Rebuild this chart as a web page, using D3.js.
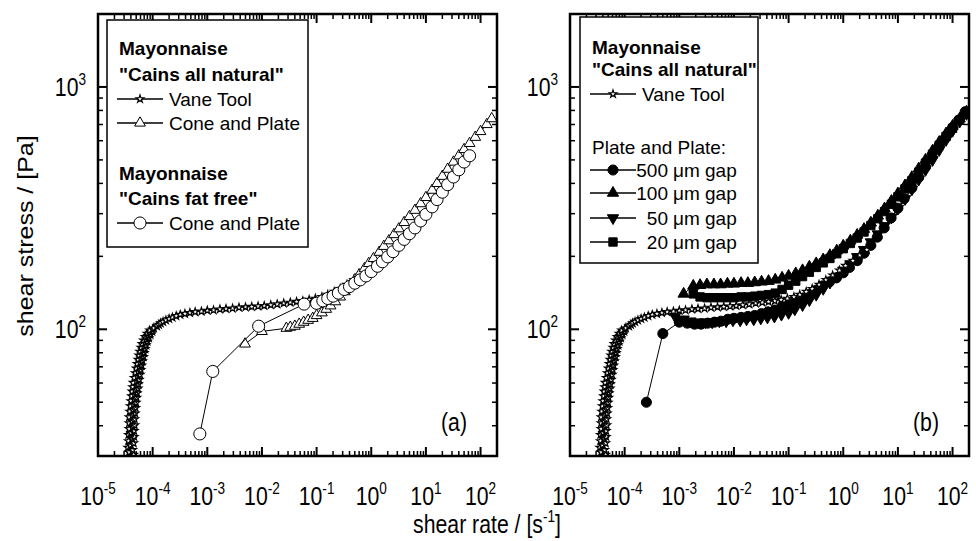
<!DOCTYPE html>
<html>
<head>
<meta charset="utf-8">
<script src="https://cdn.jsdelivr.net/npm/d3@7"></script>
<style>
  body { margin: 0; background: #fff; }
  text { font-family: "Liberation Sans", Arial, sans-serif; fill: #000; }
</style>
</head>
<body>
<svg id="canvas" width="976" height="541"></svg>
<script>
// données : [taux de cisaillement (1/s), contrainte (Pa)]

// vane tool, mayonnaise "Cains all natural" (étoiles, les deux panneaux)
// partie raide : taux en unités de 1e-5 1/s
const vaneRaide = [
  [3.4,29],[4.0,29.7],[4.5,30.4],[3.7,31.1],[4.3,31.8],[3.5,32.5],[3.9,33.2],[4.5,33.9],[3.6,34.6],
  [4.2,35.3],[4.6,36],[3.6,36.7],[4.0,37.4],[4.6,38.1],[3.7,38.8],[4.3,39.5],[4.7,40.2],[3.7,41],
  [4.2,41.8],[4.7,42.6],[3.7,43.4],[4.3,44.2],[4.8,45],[3.8,45.8],[4.4,46.6],[4.9,47.4],[3.9,48.2],
  [4.5,49],[5.0,49.8],[4.0,50.6],[4.6,51.4],[5.1,52.2],[4.1,53],[4.7,53.8],[5.2,54.6],[4.2,55.4],
  [4.8,56.2],[5.4,57],[4.3,57.8],[5.0,58.6],[5.5,59.4],[4.4,60.2],[5.1,61],[5.7,62],[4.6,63],[5.3,64],
  [5.9,65],[4.8,66],[5.5,67],[6.1,68],[5.0,69],[5.7,70],[6.3,71],[5.2,72],[5.9,73],[6.5,74],[5.4,75],
  [6.1,76],[6.8,77],[5.6,78],[6.3,79],[7.0,80],[5.8,81],[6.6,82],[7.3,83],[6.1,84],[6.9,85],[7.6,86],
  [6.4,87],[7.3,88],[8.0,89],[6.8,90],[7.7,91],[8.5,92],[7.3,93],[8.2,94],[9.1,95],[7.9,96],[8.9,97],
  [9.8,98],[8.8,99],[10.0,100],[10.5,101]
]
// plateau et montée : taux en 1/s
const vanePlateau = [
  [1.2e-4,103],[1.3e-4,104.5],[1.4e-4,106],[1.55e-4,107.5],[1.75e-4,109],[2.0e-4,110.5],[2.3e-4,112],
  [2.7e-4,113.5],[3.2e-4,115],[3.9e-4,116],[4.8e-4,117],[6.0e-4,118],[7.8e-4,118.5],[1.0e-3,119.5],
  [1.3e-3,120],[1.7e-3,121],[2.2e-3,121.5],[2.9e-3,122],[3.8e-3,123],[5.0e-3,123.5],[6.5e-3,124],
  [8.5e-3,124.5],[1.1e-2,125],[1.45e-2,126],[1.9e-2,127],[2.5e-2,128],[3.3e-2,129],[4.3e-2,130],
  [5.6e-2,131],[7.3e-2,132.5],[9.5e-2,134],[0.125,136],[0.16,139],[0.21,143],[0.27,147],[0.36,153],
  [0.48,160],[0.64,167],[0.85,175],[1.1,183],[1.5,192],[2.0,202],[2.7,213]
]
const vaneTool = vaneRaide.map(d => [d[0] * 1e-5, d[1]]).concat(vanePlateau)

// cone and plate, "Cains all natural" (triangles vides)
const allNaturalCone = [
  [4.9e-3,87],[1.0e-2,98],[0.028,101],[0.033,102],[0.04,103],[0.048,105],[0.058,107],[0.07,109],
  [0.085,111],[0.1,114],[0.125,117],[0.15,121],[0.18,125],[0.22,130],[0.27,136],[0.33,143],[0.4,151],
  [0.5,160],[0.6,168],[0.75,178],[0.9,187],[1.1,196],[1.4,208],[1.7,220],[2.1,232],[2.6,246],[3.2,260],
  [4,276],[5,292],[6.3,310],[8,330],[10,350],[13,375],[16,400],[20,428],[25,458],[32,490],[40,520],
  [50,552],[63,585],[80,620],[100,655],[130,700],[160,740]
]

// cone and plate, "Cains fat free" (cercles vides)
const fatFreeCone = [
  [7.3e-4,37],[1.26e-3,67],[8.7e-3,103],[5.9e-2,127],[0.1,128],[0.13,131],[0.16,134],[0.2,137],
  [0.25,141],[0.32,146],[0.4,150],[0.5,155],[0.63,160],[0.8,166],[1.0,173],[1.3,182],[1.6,190],
  [2.0,199],[2.5,209],[3.2,222],[4.0,235],[5.0,248],[6.3,262],[8,280],[10,298],[13,320],[16,343],
  [20,368],[25,395],[32,425],[40,455],[50,490],[63,520]
]

// plate and plate, différents entrefers (panneau b)
const gap500 = [
  [2.5e-4,50],[5e-4,96],[1.0e-3,107],[1.4e-3,106],[1.9e-3,105],[2.5e-3,105],[3.3e-3,106],[4.4e-3,107],
  [5.8e-3,108],[7.7e-3,110],[1.0e-2,111],[1.35e-2,112],[1.8e-2,113],[2.4e-2,114],[3.2e-2,116],[4.2e-2,118],
  [5.6e-2,120],[7.5e-2,123],[0.1,126],[0.13,130],[0.18,134],[0.24,139],[0.32,145],[0.42,151],[0.56,157],
  [0.75,163],[1.0,171],[1.3,180],[1.8,192],[2.4,206],[3.2,222],[4.2,240],[5.6,262],[7.5,288],[10,316],
  [13,346],[18,383],[24,423],[32,468],[42,513],[56,563],[75,618],[100,678],[130,730],[170,790]
]
const gap100 = [
  [1.2e-3,140],[1.8e-3,151],[2.4e-3,152],[3.2e-3,153],[4.3e-3,153],[5.7e-3,153],[7.6e-3,154],[1.0e-2,154],
  [1.35e-2,155],[1.8e-2,155],[2.4e-2,156],[3.2e-2,157],[4.3e-2,158],[5.7e-2,160],[7.6e-2,163],[0.1,166],
  [0.135,170],[0.18,175],[0.24,181],[0.32,187],[0.43,194],[0.57,202],[0.76,211],[1.0,221],[1.35,232],
  [1.8,245],[2.4,259],[3.2,275],[4.3,294],[5.7,315],[7.6,338],[10,363],[13.5,392],[18,424],[24,460],
  [32,500],[43,545],[57,592],[76,642],[100,690],[135,740],[180,790]
]
const gap50 = [
  [8.4e-4,113],[1.2e-3,110],[1.6e-3,108],[2.2e-3,107],[3.0e-3,107],[4.0e-3,107],[5.4e-3,108],[7.2e-3,108],
  [9.6e-3,109],[1.3e-2,109],[1.7e-2,110],[2.3e-2,110],[3.1e-2,111],[4.1e-2,112],[5.5e-2,113],[7.4e-2,115],
  [0.1,117],[0.13,121],[0.18,126],[0.24,132],[0.32,139],[0.43,147],[0.57,156],[0.76,165],[1.0,175],
  [1.35,186],[1.8,199],[2.4,213],[3.2,229],[4.3,247],[5.7,267],[7.6,290],[10,315],[13.5,345],[18,378],
  [24,415],[32,455],[43,500],[57,550],[76,605],[100,660],[135,720],[180,775]
]
const gap20 = [
  [1.8e-3,140],[2.4e-3,136],[3.2e-3,135],[4.3e-3,135],[5.7e-3,135],[7.6e-3,135],[1.0e-2,135],[1.35e-2,136],
  [1.8e-2,136],[2.4e-2,137],[3.2e-2,138],[4.3e-2,139],[5.7e-2,141],[7.6e-2,146],[0.1,152],[0.135,158],
  [0.18,165],[0.24,172],[0.32,180],[0.43,188],[0.57,196],[0.76,205],[1.0,215],[1.35,226],[1.8,238],
  [2.4,252],[3.2,268],[4.3,286],[5.7,306],[7.6,328],[10,352],[13.5,380],[18,410],[24,445],[32,485],
  [43,528],[57,575],[76,625],[100,675],[135,728],[180,780]
]

// étiquettes des axes (puissances de 10)
const xExposants = [-5, -4, -3, -2, -1, 0, 1, 2]
const yExposants = [2, 3]
const xDomaine = [1e-5, 200]
const yDomaine = [30, 2000]

// textes des légendes
const legendeA = [
  { txt: 'Mayonnaise', bold: true },
  { txt: '"Cains all natural"', bold: true },
  { txt: 'Vane Tool', sym: 'star' },
  { txt: 'Cone and Plate', sym: 'triangle' },
  { txt: 'Mayonnaise', bold: true },
  { txt: '"Cains fat free"', bold: true },
  { txt: 'Cone and Plate', sym: 'circle' }
]
const legendeB = [
  { txt: 'Mayonnaise', bold: true },
  { txt: '"Cains all natural"', bold: true },
  { txt: 'Vane Tool', sym: 'star' },
  { txt: 'Plate and Plate:' },
  { num: '500', txt: 'μm gap', sym: 'dot' },
  { num: '100', txt: 'μm gap', sym: 'up' },
  { num: '50', txt: 'μm gap', sym: 'down' },
  { num: '20', txt: 'μm gap', sym: 'square' }
]

let canvas = d3.select('#canvas')
const yHaut = 14, yBas = 456

// styles des symboles
const symboles = {
  star: { type: d3.symbolStar, size: 18, fill: '#fff', rot: 0, sw: 1.2 },
  triangle: { type: d3.symbolTriangle, size: 50, fill: '#fff', rot: 0, sw: 1 },
  circle: { type: d3.symbolCircle, size: 115, fill: '#fff', rot: 0, sw: 1 },
  dot: { type: d3.symbolCircle, size: 80, fill: '#000', rot: 0, sw: 1 },
  up: { type: d3.symbolTriangle, size: 55, fill: '#000', rot: 0, sw: 1 },
  down: { type: d3.symbolTriangle, size: 55, fill: '#000', rot: 180, sw: 1 },
  square: { type: d3.symbolSquare, size: 70, fill: '#000', rot: 0, sw: 1 }
}

let dessinerSymbole = (g, nom, cx, cy) => {
  const s = symboles[nom]
  g.append('path')
    .attr('d', d3.symbol().type(s.type).size(s.size)())
    .attr('transform', `translate(${cx},${cy}) rotate(${s.rot})`)
    .attr('fill', s.fill)
    .attr('stroke', '#000')
    .attr('stroke-width', s.sw)
}

// texte étroit (la figure d'origine utilise une police condensée)
let texteEtroit = (parent, x, y, ancre, taille) => {
  return parent.append('g').attr('transform', `translate(${x},${y}) scale(0.85,1)`)
    .append('text').attr('text-anchor', ancre).style('font-size', taille + 'px')
}

let puissance = (t, e) => {
  t.append('tspan').text('10')
  t.append('tspan').attr('dy', -11).style('font-size', '16px').text(e < 0 ? '-' + (-e) : e)
}

let dessinerPanneau = (gauche, droite, nom, series, legende, boite, lettre) => {
  const x = d3.scaleLog().domain(xDomaine).range([gauche, droite])
  const y = d3.scaleLog().domain(yDomaine).range([yBas, yHaut])
  const g = canvas.append('g')

  const estMajeur = v => Math.abs(Math.log10(v) - Math.round(Math.log10(v))) < 1e-6

  // graduations vers l'intérieur sur les 4 côtés
  const ticks = g.append('g').attr('stroke', '#000')
  x.ticks().forEach(v => {
    const L = estMajeur(v) ? 9 : 5
    const w = estMajeur(v) ? 2 : 1.5
    ticks.append('line').attr('x1', x(v)).attr('x2', x(v)).attr('y1', yBas).attr('y2', yBas - L).attr('stroke-width', w)
    ticks.append('line').attr('x1', x(v)).attr('x2', x(v)).attr('y1', yHaut).attr('y2', yHaut + L).attr('stroke-width', w)
  })
  y.ticks().forEach(v => {
    const L = estMajeur(v) ? 9 : 5
    const w = estMajeur(v) ? 2 : 1.5
    ticks.append('line').attr('y1', y(v)).attr('y2', y(v)).attr('x1', gauche).attr('x2', gauche + L).attr('stroke-width', w)
    ticks.append('line').attr('y1', y(v)).attr('y2', y(v)).attr('x1', droite).attr('x2', droite - L).attr('stroke-width', w)
  })

  // données
  canvas.append('clipPath').attr('id', 'clip' + nom)
    .append('rect').attr('x', gauche).attr('y', yHaut).attr('width', droite - gauche).attr('height', yBas - yHaut)
  const zone = g.append('g').attr('clip-path', `url(#clip${nom})`)
  const ligne = d3.line().x(d => x(d[0])).y(d => y(d[1]))
  series.forEach(s => {
    zone.append('path').datum(s.data).attr('d', ligne)
      .attr('fill', 'none').attr('stroke', '#000').attr('stroke-width', 1)
    s.data.forEach(d => dessinerSymbole(zone, s.sym, x(d[0]), y(d[1])))
  })

  // légende
  const lg = g.append('g')
  lg.append('rect').attr('x', boite.x).attr('y', boite.y).attr('width', boite.w).attr('height', boite.h)
    .attr('fill', '#fff').attr('stroke', '#000').attr('stroke-width', 1.5)
  legende.forEach((r, i) => {
    const by = boite.lignes[i]
    if (r.sym) {
      lg.append('line').attr('x1', boite.x + 10).attr('x2', boite.x + 56).attr('y1', by - 7).attr('y2', by - 7)
        .attr('stroke', '#000').attr('stroke-width', 1.3)
      dessinerSymbole(lg, r.sym, boite.x + 33, by - 7)
      if (r.num) {
        lg.append('text').attr('x', boite.x + 88).attr('y', by).attr('text-anchor', 'end')
          .style('font-size', '19px').text(r.num)
        lg.append('text').attr('x', boite.x + 93).attr('y', by).style('font-size', '19px').text(r.txt)
      } else {
        lg.append('text').attr('x', boite.x + 62).attr('y', by).style('font-size', '19px').text(r.txt)
      }
    } else {
      lg.append('text').attr('x', boite.x + 12).attr('y', by)
        .style('font-size', '19px').style('font-weight', r.bold ? 'bold' : 'normal').text(r.txt)
    }
  })

  // cadre
  g.append('rect').attr('x', gauche).attr('y', yHaut).attr('width', droite - gauche).attr('height', yBas - yHaut)
    .attr('fill', 'none').attr('stroke', '#000').attr('stroke-width', 2.5)

  // étiquettes des graduations
  xExposants.forEach(e => {
    puissance(texteEtroit(g, x(Math.pow(10, e)), 505, 'middle', 25), e)
  })
  yExposants.forEach(e => {
    puissance(texteEtroit(g, gauche - 12, y(Math.pow(10, e)) + 9, 'end', 25), e)
  })

  texteEtroit(g, droite - 30, 431, 'end', 25).text(lettre)
}

dessinerPanneau(98, 497, 'a', [
  { data: vaneTool, sym: 'star' },
  { data: allNaturalCone, sym: 'triangle' },
  { data: fatFreeCone, sym: 'circle' }
], legendeA, { x: 107, y: 20, w: 201, h: 227, lignes: [55, 81, 106, 130, 180, 205, 230] }, '(a)')

dessinerPanneau(570, 969, 'b', [
  { data: gap500, sym: 'dot' },
  { data: gap50, sym: 'down' },
  { data: gap20, sym: 'square' },
  { data: gap100, sym: 'up' },
  { data: vaneTool, sym: 'star' }
], legendeB, { x: 580, y: 17, w: 178, h: 246, lignes: [54, 76, 101, 154, 177, 200, 225, 249] }, '(b)')

// titres des axes
const tx = texteEtroit(canvas, 487, 533, 'middle', 25)
tx.append('tspan').text('shear rate / [s')
tx.append('tspan').attr('dy', -11).style('font-size', '16px').text('-1')
tx.append('tspan').attr('dy', 11).text(']')

canvas.append('g').attr('transform', 'translate(33,236) rotate(-90) scale(1,0.85)')
  .append('text').attr('text-anchor', 'middle').style('font-size', '25px').text('shear stress / [Pa]')
</script>
</body>
</html>
